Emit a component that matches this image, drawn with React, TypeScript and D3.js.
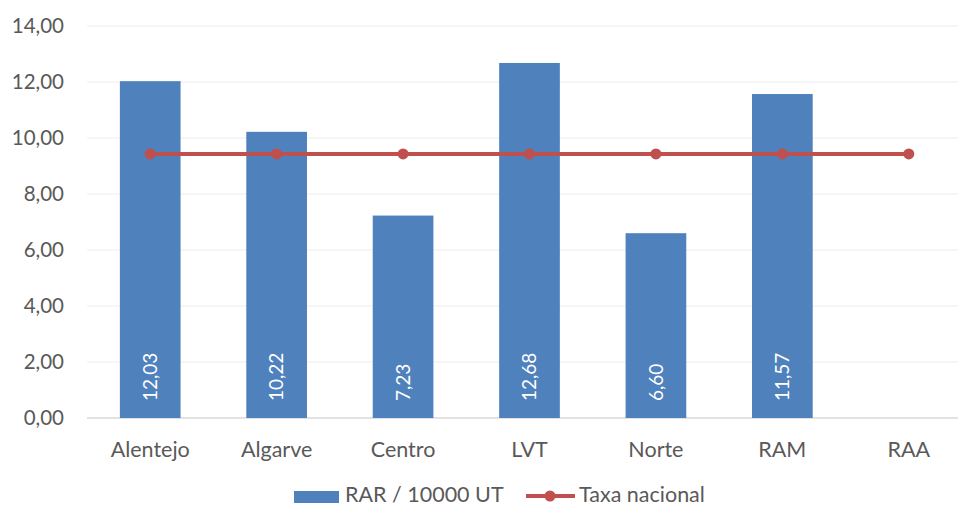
import React from "react";
import * as d3 from "d3";

const categories = ["Alentejo", "Algarve", "Centro", "LVT", "Norte", "RAM", "RAA"];
const rarValues: (number | null)[] = [12.03, 10.22, 7.23, 12.68, 6.6, 11.57, null];
const nationalRate = [9.43, 9.43, 9.43, 9.43, 9.43, 9.43, 9.43];
const yTicks = [0, 2, 4, 6, 8, 10, 12, 14];

const W = 958, H = 506;
const FONT = "Lato, 'Open Sans', sans-serif";

export default function App() {
  const x = d3.scaleBand<string>().domain(categories).range([87, 972]).paddingInner(0.52).paddingOuter(0.26);
  const y = d3.scaleLinear().domain([0, 14]).range([418, 26]);
  const fmt = (v: number) => v.toFixed(2).replace(".", ",");
  const cx = (c: string) => (x(c) as number) + x.bandwidth() / 2;
  const line = d3.line<number>().x((_, i) => cx(categories[i])).y((d) => y(d));

  return (
    <svg width={W} height={H} style={{ position: "absolute", left: 0, top: 0, background: "#fff" }}>
      {yTicks.map((t) => (
        <g key={t}>
          <line x1={87} x2={972} y1={y(t)} y2={y(t)} stroke={t === 0 ? "#D9D9D9" : "#EDEDED"} strokeWidth={t === 0 ? 1.5 : 1} />
          <text x={64} y={y(t)} dy="0.35em" textAnchor="end" fontFamily={FONT} fontSize={20.5} fill="#595959">{fmt(t)}</text>
        </g>
      ))}
      {categories.map((c, i) => {
        const v = rarValues[i];
        if (v == null) return null;
        return (
          <g key={c}>
            <rect x={x(c)} y={y(v)} width={x.bandwidth()} height={y(0) - y(v)} fill="#4F81BD" />
            <text transform={`translate(${cx(c)},${401}) rotate(-90)`} dy="0.35em" textAnchor="start" fontFamily={FONT} fontSize={19} fill="#fff">{fmt(v)}</text>
          </g>
        );
      })}
      <path d={line(nationalRate) || ""} fill="none" stroke="#C0504D" strokeWidth={4} />
      {nationalRate.map((v, i) => (
        <circle key={i} cx={cx(categories[i])} cy={y(v)} r={5.5} fill="#C0504D" />
      ))}
      {categories.map((c) => (
        <text key={c} x={cx(c)} y={449} dy="0.35em" textAnchor="middle" fontFamily={FONT} fontSize={21.5} fill="#595959">{c}</text>
      ))}
      <rect x={294} y={491} width={45} height={12} fill="#4F81BD" />
      <text x={345} y={502} fontFamily={FONT} fontSize={21.5} fill="#595959">RAR / 10000 UT</text>
      <line x1={526} x2={575} y1={496} y2={496} stroke="#C0504D" strokeWidth={4} />
      <circle cx={550} cy={496} r={5.5} fill="#C0504D" />
      <text x={579} y={502} fontFamily={FONT} fontSize={21.5} fill="#595959">Taxa nacional</text>
    </svg>
  );
}
